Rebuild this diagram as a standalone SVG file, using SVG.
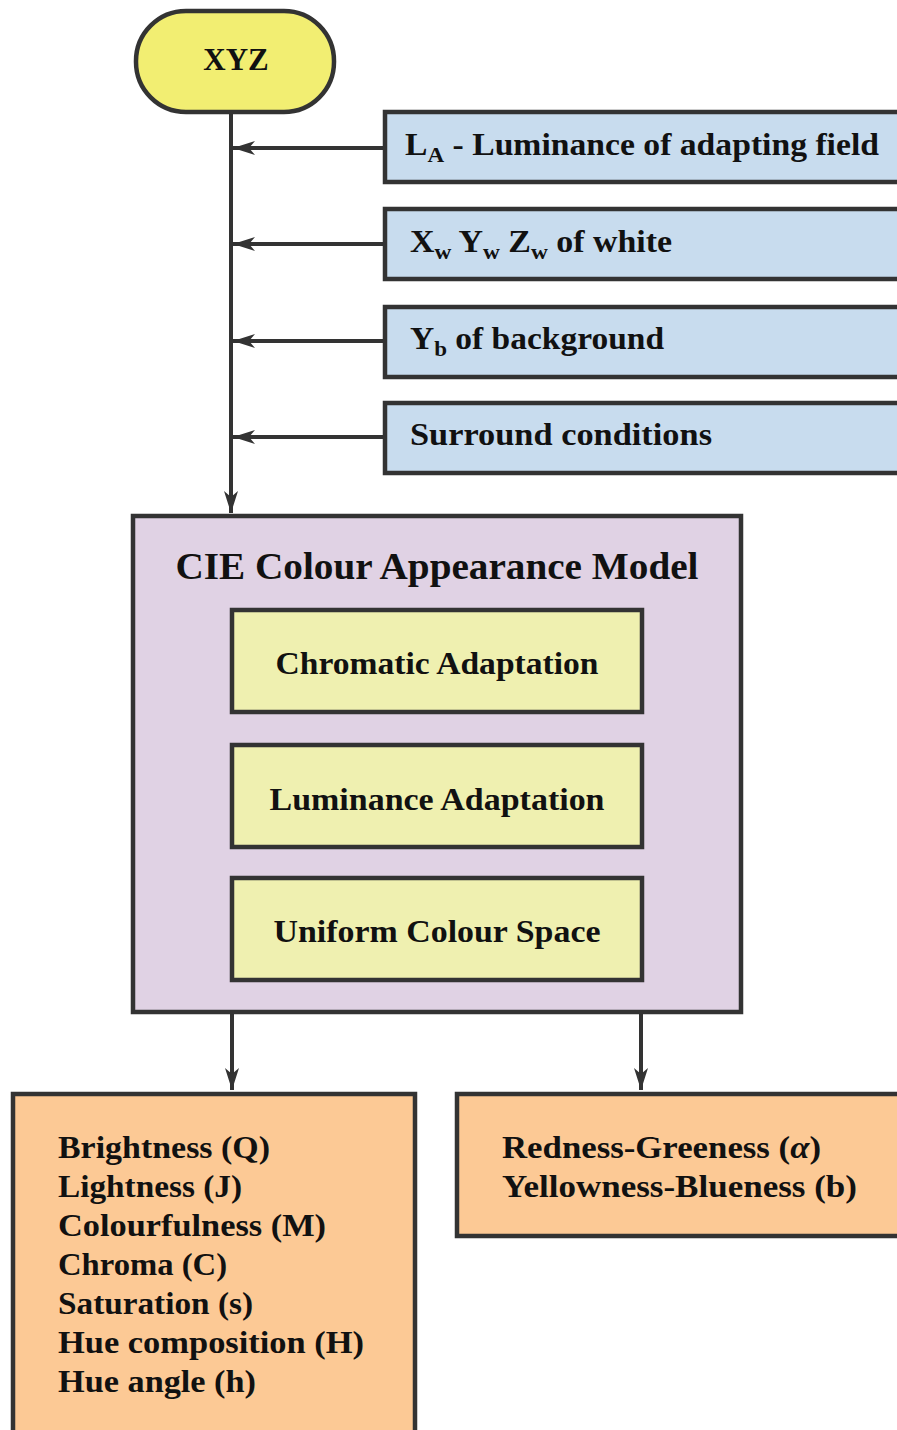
<svg xmlns="http://www.w3.org/2000/svg" width="897" height="1430" viewBox="0 0 897 1430">
<style>
.box{stroke:#333;stroke-width:4.5}
.t{font-family:"Liberation Serif","Times New Roman",serif;font-weight:bold;fill:#111}
.c{stroke:#333;stroke-width:4;fill:none}
</style>
<defs>
<marker id="ah" viewBox="0 0 22 14" refX="22" refY="7" markerWidth="22" markerHeight="14" markerUnits="userSpaceOnUse" orient="auto">
<path d="M0,0 L22,7 L0,14 L6,7 z" fill="#333"/>
</marker>
</defs>
<rect width="897" height="1430" fill="#fff"/>

<g id="connectors">
<line class="c" x1="231" y1="113" x2="231" y2="513" marker-end="url(#ah)"/>
<line class="c" x1="384" y1="148" x2="233" y2="148" marker-end="url(#ah)"/>
<line class="c" x1="384" y1="244" x2="233" y2="244" marker-end="url(#ah)"/>
<line class="c" x1="384" y1="341" x2="233" y2="341" marker-end="url(#ah)"/>
<line class="c" x1="384" y1="437" x2="233" y2="437" marker-end="url(#ah)"/>
<line class="c" x1="232" y1="1013" x2="232" y2="1090" marker-end="url(#ah)"/>
<line class="c" x1="641" y1="1013" x2="641" y2="1090" marker-end="url(#ah)"/>
</g>

<g id="xyz">
<rect class="box" x="136" y="11" width="198" height="101" rx="50" fill="#f2ee72"/>
<text class="t" x="236" y="70" font-size="31" text-anchor="middle">XYZ</text>
</g>

<g id="la">
<rect class="box" x="385" y="112" width="530" height="70" fill="#c8dcee"/>
<text class="t" x="405" y="155" font-size="32" textLength="474" lengthAdjust="spacingAndGlyphs">L<tspan font-size="22" dy="7">A</tspan><tspan dy="-7"> - Luminance of adapting field</tspan></text>
</g>

<g id="white">
<rect class="box" x="385" y="209" width="530" height="70" fill="#c8dcee"/>
<text class="t" x="410" y="252" font-size="32" textLength="262" lengthAdjust="spacingAndGlyphs">X<tspan font-size="22" dy="7">w</tspan><tspan dy="-7"> Y</tspan><tspan font-size="22" dy="7">w</tspan><tspan dy="-7"> Z</tspan><tspan font-size="22" dy="7">w</tspan><tspan dy="-7"> of white</tspan></text>
</g>

<g id="background">
<rect class="box" x="385" y="307" width="530" height="70" fill="#c8dcee"/>
<text class="t" x="410" y="349" font-size="32" textLength="254" lengthAdjust="spacingAndGlyphs">Y<tspan font-size="22" dy="7">b</tspan><tspan dy="-7"> of background</tspan></text>
</g>

<g id="surround">
<rect class="box" x="385" y="403" width="530" height="70" fill="#c8dcee"/>
<text class="t" x="410" y="445" font-size="32" textLength="302" lengthAdjust="spacingAndGlyphs">Surround conditions</text>
</g>

<g id="ciecam">
<rect class="box" x="133" y="516" width="608" height="496" fill="#e0d2e4"/>
<text class="t" x="437" y="579" font-size="37" text-anchor="middle" textLength="523" lengthAdjust="spacingAndGlyphs">CIE Colour Appearance Model</text>
</g>

<g id="chromatic">
<rect class="box" x="232" y="610" width="410" height="102" fill="#eff0b0"/>
<text class="t" x="437" y="674" font-size="32" text-anchor="middle" textLength="323" lengthAdjust="spacingAndGlyphs">Chromatic Adaptation</text>
</g>

<g id="luminance">
<rect class="box" x="232" y="745" width="410" height="102" fill="#eff0b0"/>
<text class="t" x="437" y="810" font-size="32" text-anchor="middle" textLength="335" lengthAdjust="spacingAndGlyphs">Luminance Adaptation</text>
</g>

<g id="ucs">
<rect class="box" x="232" y="878" width="410" height="102" fill="#eff0b0"/>
<text class="t" x="437" y="942" font-size="32" text-anchor="middle" textLength="327" lengthAdjust="spacingAndGlyphs">Uniform Colour Space</text>
</g>

<g id="correlates">
<rect class="box" x="13" y="1094" width="402" height="360" fill="#fcc995"/>
<text class="t" font-size="32">
<tspan x="58" y="1158" textLength="212" lengthAdjust="spacingAndGlyphs">Brightness (Q)</tspan>
<tspan x="58" y="1197" textLength="184" lengthAdjust="spacingAndGlyphs">Lightness (J)</tspan>
<tspan x="58" y="1236" textLength="268" lengthAdjust="spacingAndGlyphs">Colourfulness (M)</tspan>
<tspan x="58" y="1275" textLength="169" lengthAdjust="spacingAndGlyphs">Chroma (C)</tspan>
<tspan x="58" y="1314" textLength="195" lengthAdjust="spacingAndGlyphs">Saturation (s)</tspan>
<tspan x="58" y="1353" textLength="306" lengthAdjust="spacingAndGlyphs">Hue composition (H)</tspan>
<tspan x="58" y="1392" textLength="198" lengthAdjust="spacingAndGlyphs">Hue angle (h)</tspan>
</text>
</g>

<g id="opponent">
<rect class="box" x="457" y="1094" width="460" height="142" fill="#fcc995"/>
<text class="t" font-size="32">
<tspan x="502" y="1158" textLength="319" lengthAdjust="spacingAndGlyphs">Redness-Greeness (<tspan font-style="italic">α</tspan>)</tspan>
<tspan x="502" y="1197" textLength="355" lengthAdjust="spacingAndGlyphs">Yellowness-Blueness (b)</tspan>
</text>
</g>
</svg>
